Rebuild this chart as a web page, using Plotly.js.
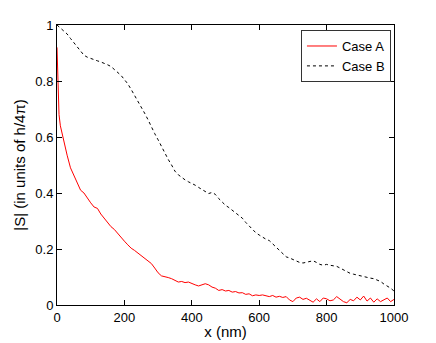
<!DOCTYPE html>
<html>
<head>
<meta charset="utf-8">
<script src="https://cdn.plot.ly/plotly-3.0.1.min.js"></script>
<style>html,body{margin:0;padding:0;background:#fff;}#chart{width:436px;height:343px;}</style>
</head>
<body>
<div id="chart"></div>
<script>
var caseAx = [0,3,6,10,20,30,40,50,60,70,80,90,100,110,120,130,140,150,160,170,180,190,200,210,220,230,240,250,260,270,280,290,300,310,320,330,340,350,360,370,380,390,400,410,420,430,440,450,460,470,480,490,500,510,520,530,540,550,560,570,580,590,600,610,620,630,640,650,660,670,680,690,700,710,720,730,740,750,760,770,780,790,800,810,820,830,840,850,860,870,880,890,900,910,920,930,940,950,960,970,980,990,1000];
var caseAy = [0.92,0.75,0.68,0.64,0.585,0.535,0.49,0.465,0.44,0.41,0.40,0.38,0.365,0.35,0.345,0.325,0.31,0.295,0.28,0.27,0.255,0.24,0.228,0.215,0.203,0.195,0.185,0.178,0.168,0.158,0.148,0.132,0.115,0.104,0.102,0.098,0.094,0.089,0.082,0.084,0.080,0.082,0.076,0.072,0.068,0.071,0.076,0.072,0.064,0.060,0.052,0.055,0.050,0.052,0.046,0.048,0.043,0.044,0.038,0.040,0.033,0.036,0.034,0.036,0.032,0.030,0.034,0.028,0.031,0.027,0.030,0.018,0.012,0.025,0.028,0.020,0.024,0.016,0.010,0.022,0.012,0.025,0.022,0.015,0.018,0.030,0.022,0.012,0.008,0.020,0.015,0.028,0.018,0.032,0.014,0.025,0.010,0.022,0.012,0.018,0.025,0.012,0.020];
var caseBx = [0,10,20,30,40,50,60,70,80,90,100,110,120,130,140,150,160,170,180,190,200,210,220,230,240,250,260,270,280,290,300,310,320,330,340,350,360,370,380,390,400,410,420,430,440,450,460,470,480,490,500,510,520,530,540,550,560,570,580,590,600,610,620,630,640,650,660,670,680,690,700,710,720,730,740,750,760,770,780,790,800,810,820,830,840,850,860,870,880,890,900,910,920,930,940,950,960,970,980,990,1000];
var caseBy = [1.0,0.99,0.98,0.968,0.952,0.937,0.92,0.905,0.892,0.885,0.88,0.876,0.872,0.868,0.864,0.858,0.852,0.842,0.832,0.82,0.805,0.79,0.77,0.75,0.73,0.708,0.685,0.662,0.635,0.612,0.59,0.565,0.545,0.52,0.50,0.478,0.465,0.455,0.447,0.44,0.435,0.428,0.42,0.412,0.405,0.398,0.402,0.395,0.38,0.368,0.356,0.348,0.338,0.33,0.32,0.31,0.295,0.282,0.27,0.258,0.25,0.242,0.235,0.23,0.218,0.205,0.193,0.182,0.172,0.168,0.163,0.158,0.152,0.15,0.152,0.155,0.158,0.152,0.145,0.142,0.145,0.142,0.14,0.138,0.132,0.125,0.118,0.113,0.11,0.107,0.104,0.10,0.097,0.096,0.094,0.09,0.084,0.075,0.068,0.06,0.05];
var xTicks = [0,200,400,600,800,1000];
var yTicks = [0,0.2,0.4,0.6,0.8,1];
var yTickLabels = ['0','0.2','0.4','0.6','0.8','1'];

var font = 'Liberation Sans, Arial, sans-serif';
var traces = [
  {x: caseAx, y: caseAy, type: 'scatter', mode: 'lines', name: 'Case A', line: {color: '#ff0000', width: 1}},
  {x: caseBx, y: caseBy, type: 'scatter', mode: 'lines', name: 'Case B', line: {color: '#000000', width: 1, dash: '3px,3px'}}
];
var axisCommon = {
  showline: true, mirror: 'ticks', linecolor: '#000', linewidth: 1,
  ticks: 'inside', ticklen: 5, tickcolor: '#000', showgrid: false, zeroline: false,
  tickfont: {family: font, size: 13, color: '#000'}
};
var layout = {
  width: 436, height: 343,
  margin: {l: 57, r: 42, t: 25, b: 38},
  paper_bgcolor: '#fff', plot_bgcolor: '#fff',
  showlegend: true,
  legend: {x: 0.991, y: 0.982, xanchor: 'right', yanchor: 'top', bgcolor: '#fff', bordercolor: '#333', borderwidth: 1,
    font: {family: font, size: 13, color: '#000'}, tracegroupgap: 0, itemwidth: 30},
  xaxis: Object.assign({}, axisCommon, {range: [0, 1000], tickvals: xTicks, ticktext: xTicks.map(String),
    title: {text: 'x (nm)', font: {family: font, size: 15, color: '#000'}, standoff: 2}}),
  yaxis: Object.assign({}, axisCommon, {range: [0, 1], tickvals: yTicks, ticktext: yTickLabels,
    title: {text: '|S| (in units of h/4π)', font: {family: font, size: 15, color: '#000'}, standoff: 6}})
};
Plotly.newPlot('chart', traces, layout, {displayModeBar: false, staticPlot: true});
</script>
</body>
</html>
